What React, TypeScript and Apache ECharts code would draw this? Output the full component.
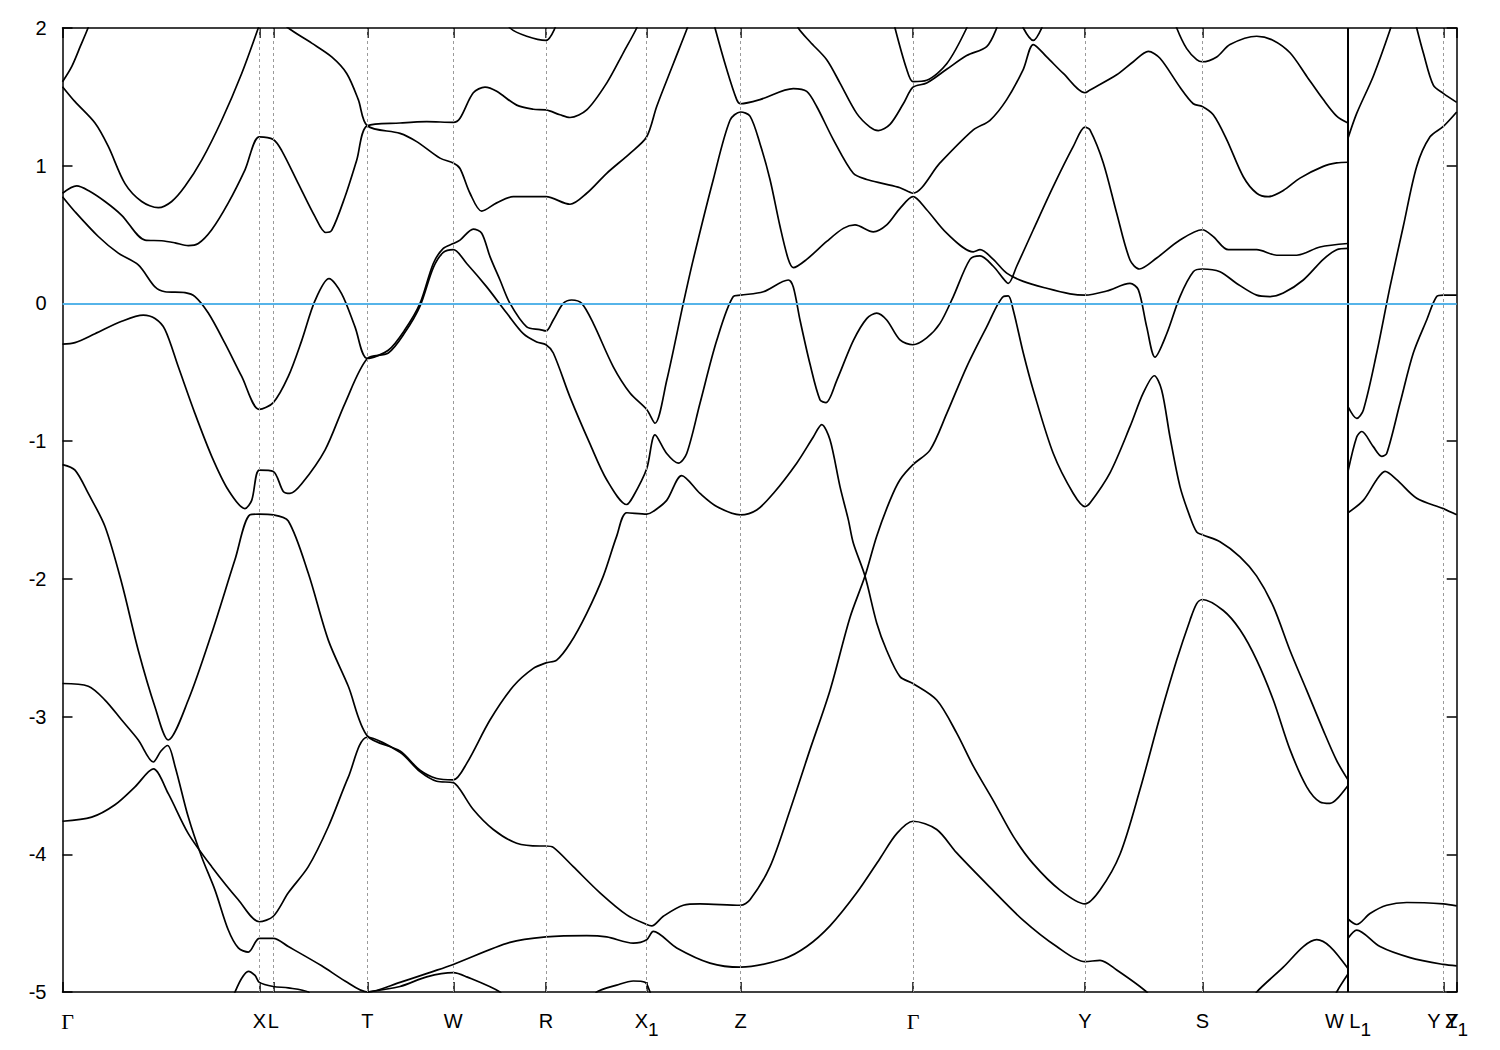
import React, { useEffect, useRef } from 'react';
import * as echarts from 'echarts';

// k-path coordinate (arbitrary units) of the high-symmetry points
const kTicks = [0, 196.8, 210.8, 304.8, 390.8, 483.5, 584.2, 678, 850.5, 1022.5, 1139.8, 1285.5, 1380.8, 1394.2];
const tickMain = ['Γ', 'X', 'L', 'T', 'W', 'R', 'X', 'Z', 'Γ', 'Y', 'S', 'W L', 'Y Y', 'Z'];
const tickSub = ['', '', '', '', '', '', '1', '', '', '', '', '1', '', '1'];
const kEnd = 1394.2;
const kJump = 1285.5; // W | L1 discontinuity
const energyMin = -5;
const energyMax = 2;
const fermiLevel = 0;

const c1 = [[0,1.61],[9.2,1.72],[18,1.87],[25.5,2.0],[28,2.06]];
const c2 = [[0,1.574],[12.5,1.465],[32.5,1.31],[45.8,1.14],[62.5,0.87],[79.2,0.74],[95.8,0.695],[109.2,0.74],[122.5,0.85],[139.2,1.04],[159.2,1.33],[179.2,1.67],[195.8,2.0],[199,2.07]];
const c3 = [[0,0.8],[14.2,0.853],[25.8,0.82],[42.5,0.74],[59.2,0.64],[82.5,0.46],[99.2,0.455],[112.5,0.44],[125.8,0.42],[135.8,0.435],[149.2,0.535],[165.8,0.73],[182.5,0.97],[196.8,1.21],[210.8,1.19],[219.2,1.11],[235.8,0.87],[252.5,0.63],[263.2,0.515],[269.2,0.53],[282.5,0.775],[294.2,1.04],[304.8,1.29],[337.5,1.31],[364.2,1.32],[390.8,1.315],[397.5,1.345],[410.8,1.53],[422.5,1.57],[434.2,1.54],[454.2,1.44],[470.8,1.41],[483.5,1.405],[497.5,1.37],[507.5,1.35],[524.2,1.405],[544.2,1.6],[560.8,1.82],[574.2,2.0],[578,2.08]];
const c4 = [[218,2.06],[225.8,2.0],[249.2,1.89],[269.2,1.79],[284.2,1.67],[295.8,1.48],[304.8,1.29],[337.5,1.235],[354.2,1.175],[377.5,1.055],[390.8,1.02],[397.5,0.98],[407.5,0.8],[419.2,0.67],[434.2,0.73],[450.8,0.775],[483.5,0.775],[507.5,0.72],[524.2,0.8],[544.2,0.945],[567.5,1.09],[584.2,1.21],[594.2,1.43],[610.8,1.74],[624.8,2.0],[628,2.07]];
const c5 = [[0,0.775],[12.5,0.666],[35.8,0.486],[55.8,0.365],[75.8,0.28],[92.5,0.12],[102.5,0.085],[122.5,0.078],[132.5,0.05],[145.8,-0.07],[162.5,-0.29],[179.2,-0.53],[196.8,-0.77],[210.8,-0.72],[225.8,-0.53],[239.2,-0.27],[252.5,0.02],[266.5,0.18],[279.2,0.07],[292.5,-0.17],[304.8,-0.4],[325.8,-0.34],[342.5,-0.19],[357.5,0.0],[370.8,0.29],[380.8,0.4],[390.8,0.435],[397.5,0.46],[410.8,0.54],[419.2,0.51],[427.5,0.34],[437.5,0.17],[447.5,0.0],[464.2,-0.17],[477.5,-0.19],[483.5,-0.2],[490.8,-0.12],[500.8,0.0],[509.2,0.025],[519.2,0.0],[530.8,-0.145],[550.8,-0.46],[567.5,-0.65],[584.2,-0.77],[592.5,-0.87],[604.2,-0.56],[620.8,0.0],[630.8,0.32],[650.8,0.9],[667.5,1.33],[678,1.39],[687.5,1.36],[697.5,1.16],[707.5,0.9],[717.5,0.56],[725.8,0.32],[730.8,0.26],[744.2,0.32],[764.2,0.45],[780.8,0.545],[792.5,0.57],[810.8,0.52],[824.2,0.57],[837.5,0.69],[850.5,0.775],[864.2,0.68],[884.2,0.51],[910.8,0.375],[917.5,0.39],[930.8,0.32],[944.2,0.22],[960.8,0.16],[984.2,0.11],[1007.5,0.07],[1022.5,0.06],[1044.2,0.09],[1067.5,0.145],[1075.8,0.1],[1084.2,-0.17],[1092.5,-0.39],[1104.2,-0.22],[1117.5,0.05],[1130.8,0.23],[1139.8,0.25],[1157.5,0.23],[1174.2,0.145],[1194.2,0.06],[1207.5,0.05],[1220.8,0.075],[1240.8,0.17],[1260.8,0.32],[1274.2,0.39],[1285.5,0.4]];
const c6 = [[0,-0.295],[12.5,-0.285],[32.5,-0.22],[59.2,-0.13],[80.8,-0.085],[92.5,-0.11],[102.5,-0.19],[115.8,-0.46],[132.5,-0.8],[149.2,-1.11],[165.8,-1.355],[182.5,-1.49],[189.2,-1.43],[196.8,-1.21],[210.8,-1.22],[220.8,-1.365],[227.5,-1.38],[239.2,-1.31],[262.5,-1.065],[282.5,-0.725],[304.8,-0.4],[325.8,-0.36],[342.5,-0.21],[357.5,-0.02],[370.8,0.26],[380.8,0.37],[390.8,0.39],[404.2,0.29],[424.2,0.12],[444.2,-0.07],[460.8,-0.22],[474.2,-0.28],[483.5,-0.3],[490.8,-0.36],[507.5,-0.68],[527.5,-1.02],[544.2,-1.28],[564.2,-1.46],[570.8,-1.4],[584.2,-1.2],[592.5,-0.955],[604.2,-1.09],[615.8,-1.16],[624.2,-1.09],[637.5,-0.725],[654.2,-0.27],[670.8,0.05],[678,0.06],[700.8,0.085],[725.8,0.17],[730.8,0.12],[737.5,-0.12],[747.5,-0.44],[757.5,-0.7],[763.5,-0.72],[774.2,-0.56],[790.8,-0.27],[804.2,-0.11],[814.2,-0.07],[824.2,-0.12],[837.5,-0.265],[850.5,-0.3],[864.2,-0.25],[877.5,-0.145],[890.8,0.05],[907.5,0.32],[917.5,0.345],[930.8,0.27],[940.8,0.18],[945.8,0.145],[954.2,0.27],[970.8,0.535],[990.8,0.85],[1010.8,1.14],[1022.5,1.28],[1027.5,1.26],[1040.8,1.02],[1054.2,0.655],[1067.5,0.315],[1076.8,0.25],[1094.2,0.33],[1117.5,0.46],[1139.8,0.535],[1150.8,0.485],[1165.8,0.39],[1194.2,0.39],[1214.2,0.35],[1234.2,0.35],[1257.5,0.41],[1285.5,0.435]];
const c7 = [[0,-1.17],[12.5,-1.21],[25.8,-1.38],[42.5,-1.62],[59.2,-2.03],[75.8,-2.52],[92.5,-2.93],[105.8,-3.17],[125.8,-2.88],[149.2,-2.395],[172.5,-1.86],[187.5,-1.535],[196.8,-1.53],[210.8,-1.535],[225.8,-1.58],[245.8,-1.96],[265.8,-2.445],[285.8,-2.78],[304.8,-3.14],[337.5,-3.25],[357.5,-3.39],[374.2,-3.45],[390.8,-3.46],[404.2,-3.34],[427.5,-3.025],[450.8,-2.78],[470.8,-2.65],[483.5,-2.61],[494.2,-2.59],[507.5,-2.47],[524.2,-2.25],[540.8,-1.98],[554.2,-1.69],[564.2,-1.52],[584.2,-1.53],[590.8,-1.51],[604.2,-1.43],[619.2,-1.25],[637.5,-1.38],[654.2,-1.475],[678,-1.535],[694.2,-1.5],[710.8,-1.38],[734.2,-1.16],[750.8,-0.97],[759.2,-0.88],[767.5,-0.99],[777.5,-1.33],[785.8,-1.57],[790.8,-1.74],[802.5,-1.98],[814.2,-2.32],[824.2,-2.52],[837.5,-2.71],[850.5,-2.76],[874.2,-2.88],[894.2,-3.12],[910.8,-3.36],[930.8,-3.61],[950.8,-3.87],[970.8,-4.07],[997.5,-4.26],[1022.5,-4.36],[1037.5,-4.26],[1057.5,-4.0],[1077.5,-3.53],[1097.5,-3.0],[1114.2,-2.59],[1127.5,-2.3],[1134.2,-2.18],[1139.8,-2.15],[1160.8,-2.23],[1177.5,-2.37],[1194.2,-2.59],[1210.8,-2.88],[1227.5,-3.24],[1244.2,-3.51],[1257.5,-3.62],[1267.5,-3.63],[1274.2,-3.6],[1285.5,-3.5]];
const c8 = [[0,-2.76],[25.8,-2.78],[42.5,-2.88],[59.2,-3.025],[75.8,-3.17],[90.8,-3.33],[98.5,-3.25],[105.2,-3.21],[112.5,-3.36],[125.8,-3.73],[139.2,-4.02],[152.5,-4.26],[165.8,-4.55],[175.8,-4.68],[185.8,-4.71],[196.8,-4.61],[210.8,-4.61],[225.8,-4.67],[259.2,-4.81],[282.5,-4.92],[304.8,-5.0],[337.5,-4.93],[370.8,-4.85],[390.8,-4.8],[447.5,-4.64],[483.5,-4.6],[524.2,-4.59],[544.2,-4.6],[570.8,-4.645],[584.2,-4.62],[590.8,-4.56],[614.2,-4.68],[647.5,-4.79],[678,-4.82],[720.8,-4.76],[744.2,-4.67],[767.5,-4.52],[794.2,-4.28],[817.5,-4.03],[834.2,-3.85],[850.5,-3.76],[874.2,-3.82],[894.2,-3.99],[927.5,-4.24],[960.8,-4.48],[994.2,-4.67],[1022.5,-4.78],[1037.5,-4.77],[1054.2,-4.84],[1084.2,-5.0],[1087,-5.05]];
const c9 = [[0,-3.76],[29.2,-3.73],[52.5,-3.64],[72.5,-3.51],[90.8,-3.38],[105.8,-3.56],[125.8,-3.85],[149.2,-4.09],[175.8,-4.33],[196.8,-4.49],[210.8,-4.45],[225.8,-4.28],[245.8,-4.09],[265.8,-3.8],[285.8,-3.44],[304.8,-3.15],[337.5,-3.26],[357.5,-3.4],[374.2,-3.47],[390.8,-3.48],[397.5,-3.53],[410.8,-3.675],[430.8,-3.82],[454.2,-3.92],[477.5,-3.94],[483.5,-3.94],[490.8,-3.95],[510.8,-4.09],[537.5,-4.28],[564.2,-4.44],[584.2,-4.51],[589.2,-4.52],[600.8,-4.45],[620.8,-4.37],[637.5,-4.36],[678,-4.37],[687.5,-4.33],[707.5,-4.09],[727.5,-3.68],[747.5,-3.24],[767.5,-2.81],[787.5,-2.28],[802.5,-1.98],[814.2,-1.69],[827.5,-1.43],[837.5,-1.28],[850.5,-1.17],[867.5,-1.065],[884.2,-0.8],[904.2,-0.46],[924.2,-0.17],[940.8,0.05],[945.8,0.055],[950.8,-0.05],[960.8,-0.36],[970.8,-0.63],[990.8,-1.09],[1010.8,-1.38],[1022.5,-1.475],[1027.5,-1.45],[1047.5,-1.23],[1067.5,-0.895],[1080.8,-0.65],[1091.8,-0.525],[1099.2,-0.63],[1107.5,-0.97],[1117.5,-1.33],[1127.5,-1.55],[1134.2,-1.66],[1139.8,-1.68],[1157.5,-1.73],[1177.5,-1.84],[1194.2,-1.98],[1210.8,-2.2],[1227.5,-2.52],[1244.2,-2.81],[1260.8,-3.1],[1274.2,-3.32],[1285.5,-3.46]];
const c10 = [[650,2.08],[652.5,2.0],[664.2,1.7],[674.2,1.48],[678,1.45],[697.5,1.48],[730.8,1.56],[744.2,1.54],[754.2,1.43],[770.8,1.19],[790.8,0.945],[804.2,0.9],[820.8,0.87],[837.5,0.84],[850.5,0.8],[877.5,1.02],[910.8,1.26],[927.5,1.33],[944.2,1.48],[960.8,1.7],[970.8,1.88],[984.2,1.79],[1000.8,1.67],[1022.5,1.53],[1027.5,1.55],[1054.2,1.66],[1070.8,1.755],[1085.8,1.83],[1097.5,1.78],[1117.5,1.57],[1130.8,1.45],[1139.8,1.43],[1150.8,1.37],[1164.2,1.19],[1180.8,0.92],[1194.2,0.8],[1205.8,0.775],[1220.8,0.82],[1237.5,0.91],[1260.8,0.995],[1274.2,1.02],[1285.5,1.025]];
const c11 = [[733,2.07],[735.8,2.0],[747.5,1.9],[764.2,1.77],[777.5,1.6],[794.2,1.38],[807.5,1.28],[815.8,1.255],[827.5,1.3],[840.8,1.45],[850.5,1.57],[864.2,1.6],[884.2,1.7],[904.2,1.8],[924.2,1.865],[934.2,2.0],[936,2.07]];
const c12 = [[831,2.07],[832.5,2.0],[844.2,1.7],[850.5,1.61],[864.2,1.62],[884.2,1.74],[904.2,2.0],[906,2.07]];
const c13 = [[959,2.07],[960.8,2.0],[970.8,1.91],[979.2,2.0],[981,2.07]];
const c14 = [[445,2.07],[447.5,2.0],[464.2,1.94],[483.5,1.91],[492.5,2.0],[494,2.07]];
const c15 = [[1112,2.07],[1114.2,2.0],[1124.2,1.85],[1134.2,1.77],[1139.8,1.755],[1154.2,1.79],[1167.5,1.88],[1194.2,1.94],[1210.8,1.91],[1227.5,1.82],[1244.2,1.65],[1260.8,1.48],[1274.2,1.36],[1285.5,1.31]];
const c16 = [[304.8,-5.0],[337.5,-4.96],[364.2,-4.89],[390.8,-4.86],[404.2,-4.89],[437.5,-5.0],[440,-5.05]];
const c17 = [[170,-5.05],[172.5,-5.0],[179.2,-4.9],[185.8,-4.85],[192.5,-4.88],[196.8,-4.93],[210.8,-4.96],[225.8,-4.97],[245.8,-5.0],[248,-5.05]];
const c18 = [[532,-5.05],[534.2,-5.0],[554.2,-4.95],[570.8,-4.92],[582.5,-4.93],[587.5,-5.0],[589,-5.05]];
const c20 = [[1192,-5.05],[1194.2,-5.0],[1220.8,-4.82],[1240.8,-4.67],[1254.2,-4.62],[1267.5,-4.67],[1285.5,-4.83]];
const c21 = [[1272,-5.05],[1274.2,-5.0],[1285.5,-4.87]];
const c22 = [[1285.5,1.2],[1294.2,1.38],[1310.8,1.65],[1327.5,1.985],[1330,2.06]];
const c23 = [[1352,2.07],[1354.2,2.0],[1360.8,1.82],[1370.8,1.585],[1380.8,1.525],[1394.2,1.46]];
const c24 = [[1285.5,-0.75],[1294.2,-0.835],[1300.8,-0.775],[1314.2,-0.36],[1327.5,0.12],[1340.8,0.56],[1354.2,0.995],[1367.5,1.21],[1380.8,1.285],[1394.2,1.39]];
const c25 = [[1285.5,-1.22],[1294.2,-0.97],[1299.2,-0.93],[1310.8,-1.04],[1319.2,-1.11],[1324.2,-1.09],[1337.5,-0.725],[1350.8,-0.36],[1364.2,-0.12],[1374.2,0.05],[1380.8,0.06],[1394.2,0.06]];
const c26 = [[1285.5,-1.52],[1300.8,-1.43],[1314.2,-1.28],[1322.5,-1.22],[1334.2,-1.28],[1354.2,-1.415],[1380.8,-1.49],[1394.2,-1.535]];
const c27 = [[1285.5,-4.47],[1294.2,-4.51],[1307.5,-4.43],[1324.2,-4.37],[1344.2,-4.35],[1380.8,-4.36],[1394.2,-4.375]];
const c28 = [[1285.5,-4.61],[1294.2,-4.55],[1317.5,-4.67],[1347.5,-4.75],[1380.8,-4.8],[1394.2,-4.81]];

const bands = [c1, c2, c3, c4, c5, c6, c7, c8, c9, c10, c11, c12, c13, c14, c15, c16, c17, c18, c20, c21, c22, c23, c24, c25, c26, c27, c28];

const MAIN_FONT = '20px "Liberation Sans", Arial, sans-serif';
const GREEK_FONT = '22px "Liberation Serif", "DejaVu Serif", serif';
const SUB_FONT = '19px "Liberation Sans", Arial, sans-serif';

export default function App() {
  const ref = useRef<HTMLDivElement>(null);

  useEffect(() => {
    if (!ref.current) return;
    const chart = echarts.init(ref.current, null, { renderer: 'svg' });

    const axisLineStyle = { color: '#000', width: 1.5 };
    const xAxisBase = {
      type: 'value',
      min: 0,
      max: kEnd,
      axisLine: { show: true, onZero: false, lineStyle: axisLineStyle },
      axisTick: { show: true, inside: true, length: 10, customValues: kTicks, lineStyle: axisLineStyle },
      axisLabel: { show: false },
      splitLine: { show: false },
    };
    const yAxisBase = {
      type: 'value',
      min: energyMin,
      max: energyMax,
      interval: 1,
      axisLine: { show: true, onZero: false, lineStyle: axisLineStyle },
      axisTick: { show: true, inside: true, length: 10, lineStyle: axisLineStyle },
      splitLine: { show: false },
    };

    const guideLines = kTicks
      .filter((k, i) => i > 0 && i < kTicks.length - 1 && k !== kJump)
      .map((k) => ({ xAxis: k }));

    const series: any[] = [
      {
        type: 'line',
        name: 'guides',
        data: [],
        silent: true,
        z: 1,
        markLine: {
          silent: true,
          symbol: ['none', 'none'],
          label: { show: false },
          lineStyle: { color: '#9a9a9a', type: [3, 3], width: 1 },
          data: guideLines,
        },
      },
      ...bands.map((d, i) => ({
        type: 'line',
        name: 'band' + (i + 1),
        data: d,
        showSymbol: false,
        symbol: 'none',
        smooth: 0.3,
        clip: true,
        silent: true,
        z: 3,
        lineStyle: { color: '#000', width: 1.7 },
      })),
      {
        type: 'line',
        name: 'jump',
        data: [[kJump, energyMin], [kJump, energyMax]],
        showSymbol: false,
        symbol: 'none',
        silent: true,
        z: 3,
        lineStyle: { color: '#000', width: 2 },
      },
      {
        type: 'line',
        name: 'fermi',
        data: [],
        silent: true,
        z: 4,
        markLine: {
          silent: true,
          symbol: ['none', 'none'],
          label: { show: false },
          lineStyle: { color: '#56b4e9', type: 'solid', width: 2 },
          data: [{ yAxis: fermiLevel }],
        },
      },
    ];

    chart.setOption({
      animation: false,
      backgroundColor: '#fff',
      grid: { left: 62.5, right: 43.3, top: 28, bottom: 58, containLabel: false },
      xAxis: [
        { ...xAxisBase, position: 'bottom' },
        { ...xAxisBase, position: 'top' },
      ],
      yAxis: [
        {
          ...yAxisBase,
          position: 'left',
          axisLabel: { show: true, color: '#000', fontSize: 20, fontFamily: '"Liberation Sans", Arial, sans-serif', margin: 16 },
        },
        { ...yAxisBase, position: 'right', axisLabel: { show: false } },
      ],
      series,
    });

    // k-point labels (with subscripts) placed at the axis positions of the ticks
    const canvas = document.createElement('canvas');
    const ctx = canvas.getContext('2d')!;
    const measure = (t: string, f: string) => {
      ctx.font = f;
      return ctx.measureText(t).width;
    };
    const baseY = (chart.convertToPixel({ yAxisIndex: 0 }, energyMin) as number) + 29;
    const graphics: any[] = [];
    kTicks.forEach((k, i) => {
      const x = chart.convertToPixel({ xAxisIndex: 0 }, k) as number;
      const main = tickMain[i];
      const sub = tickSub[i];
      const mf = main === 'Γ' ? GREEK_FONT : MAIN_FONT;
      const mw = measure(main, mf);
      const sw = sub ? measure(sub, SUB_FONT) : 0;
      const shift = i === 0 ? 5 : 0;
      const left = x - (mw + sw) / 2 + shift;
      graphics.push({
        type: 'text',
        x: left,
        y: baseY,
        silent: true,
        style: { text: main, font: mf, fill: '#000', textAlign: 'left', textVerticalAlign: 'middle' },
      });
      if (sub) {
        graphics.push({
          type: 'text',
          x: left + mw,
          y: baseY + 8,
          silent: true,
          style: { text: sub, font: SUB_FONT, fill: '#000', textAlign: 'left', textVerticalAlign: 'middle' },
        });
      }
    });
    chart.setOption({ graphic: graphics });

    return () => {
      chart.dispose();
    };
  }, []);

  return (
    <div
      ref={ref}
      style={{ position: 'absolute', left: 0, top: 0, width: 1500, height: 1050, background: '#fff' }}
    />
  );
}
